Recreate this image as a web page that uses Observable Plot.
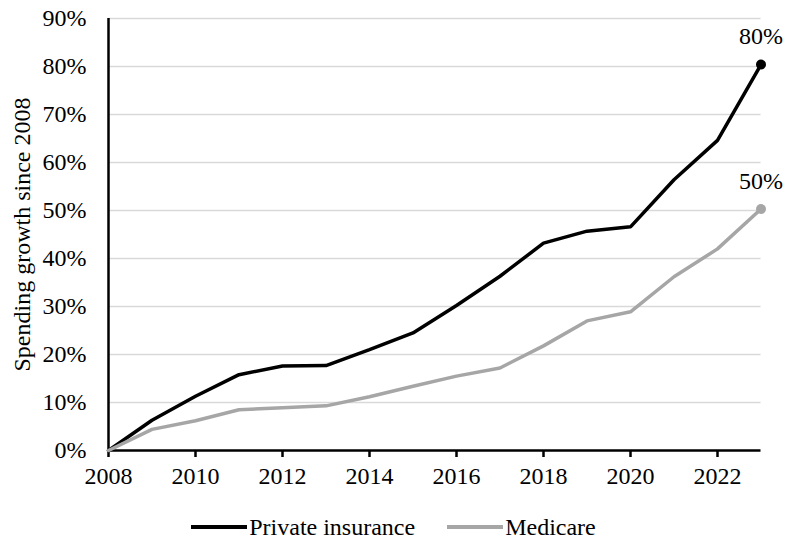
<!DOCTYPE html>
<html>
<head>
<meta charset="utf-8">
<script src="https://cdn.jsdelivr.net/npm/d3@7"></script>
<script src="https://cdn.jsdelivr.net/npm/@observablehq/plot@0.6"></script>
<style>
  html, body { margin: 0; padding: 0; background: #fff; }
  #wrap { position: relative; width: 787px; height: 544px; font-family: "Liberation Serif", "Times New Roman", serif; }
  #legend { position: absolute; left: 0; top: 510px; width: 787px; height: 34px;
            display: flex; justify-content: center; align-items: center; font-size: 24px; color: #000; }
  .item { display: flex; align-items: center; margin: 0 16px; }
  .swatch { width: 56px; height: 3.5px; margin-right: 2px; }
</style>
</head>
<body>
<div id="wrap">
  <div id="chart"></div>
  <div id="legend"></div>
</div>
<script>
// Cumulative spending growth since 2008, in percent
const years = [2008, 2009, 2010, 2011, 2012, 2013, 2014, 2015, 2016, 2017, 2018, 2019, 2020, 2021, 2022, 2023];
const privateInsurance = [0, 6.3, 11.3, 15.8, 17.6, 17.7, 21.0, 24.5, 30.2, 36.3, 43.2, 45.7, 46.6, 56.4, 64.6, 80.4];
const medicare = [0, 4.4, 6.2, 8.5, 8.9, 9.3, 11.2, 13.4, 15.5, 17.2, 21.8, 27.0, 28.9, 36.2, 42.0, 50.3];

const seriesNames = ["Private insurance", "Medicare"];
const seriesColors = ["#000000", "#a6a6a6"];
const yTicks = [0, 10, 20, 30, 40, 50, 60, 70, 80, 90];
const xTicks = [2008, 2010, 2012, 2014, 2016, 2018, 2020, 2022];
const yLabel = "Spending growth since 2008";

const rows = [];
years.forEach((year, i) => {
  rows.push({series: seriesNames[0], year, value: privateInsurance[i]});
  rows.push({series: seriesNames[1], year, value: medicare[i]});
});
const lastYear = years[years.length - 1];
const endPoints = rows.filter(d => d.year === lastYear);

const color = {domain: seriesNames, range: seriesColors};

const chart = Plot.plot({
  width: 787,
  height: 500,
  marginLeft: 108,
  marginRight: 26.5,
  marginTop: 18,
  marginBottom: 50,
  style: {fontFamily: "'Liberation Serif', 'Times New Roman', serif", fontSize: "24px", color: "#000", background: "#fff"},
  x: {domain: [2008, 2023]},
  y: {domain: [0, 90]},
  color,
  marks: [
    Plot.gridY(yTicks.filter(t => t > 0), {stroke: "#d9d9d9", strokeWidth: 1.6, strokeOpacity: 1}),
    Plot.axisY(yTicks, {tickSize: 0, tickPadding: 22, tickFormat: d => d + "%", label: null}),
    Plot.axisX(xTicks, {tickSize: 7, tickPadding: 9, tickFormat: d => String(d), label: null, stroke: "#000", strokeWidth: 2.5}),
    Plot.ruleX([2008], {stroke: "#000", strokeWidth: 2.5}),
    Plot.ruleY([0], {stroke: "#000", strokeWidth: 2.5}),
    Plot.line(rows.filter(d => d.series === seriesNames[0]), {x: "year", y: "value", stroke: "series", strokeWidth: 3.5, strokeLinejoin: "miter"}),
    Plot.line(rows.filter(d => d.series === seriesNames[1]), {x: "year", y: "value", stroke: "series", strokeWidth: 3.5, strokeLinejoin: "miter"}),
    Plot.dot(endPoints, {x: "year", y: "value", fill: "series", r: 5}),
    Plot.text(endPoints, {x: "year", y: "value", text: d => Math.round(d.value) + "%", dy: -28, fill: "#000"}),
    Plot.text([yLabel], {frameAnchor: "left", textAnchor: "middle", rotate: -90, dx: -86, fill: "#000"})
  ]
});
document.getElementById("chart").appendChild(chart);

// Legend below the chart
const legend = document.getElementById("legend");
seriesNames.forEach((name, i) => {
  const item = document.createElement("div");
  item.className = "item";
  const sw = document.createElement("span");
  sw.className = "swatch";
  sw.style.background = seriesColors[i];
  const label = document.createElement("span");
  label.textContent = name;
  item.appendChild(sw);
  item.appendChild(label);
  legend.appendChild(item);
});
</script>
</body>
</html>
